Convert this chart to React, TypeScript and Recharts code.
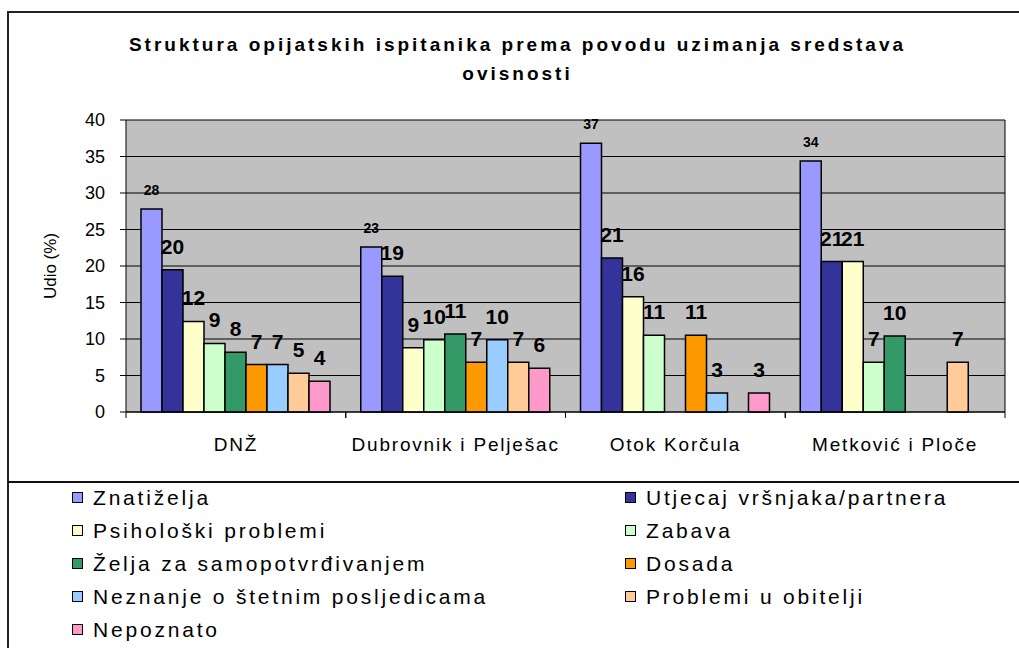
import React from 'react';
import { BarChart, Bar, XAxis, YAxis, CartesianGrid, Legend, LabelList } from 'recharts';

// regije (kategorije na x-osi)
const regions = ['DNŽ', 'Dubrovnik i Pelješac', 'Otok Korčula', 'Metković i Ploče'];

// povodi - nazivi serija i boje
const seriesNames = [
  'Znatiželja',
  'Utjecaj vršnjaka/partnera',
  'Psihološki problemi',
  'Zabava',
  'Želja za samopotvrđivanjem',
  'Dosada',
  'Neznanje o štetnim posljedicama',
  'Problemi u obitelji',
  'Nepoznato',
];
const seriesColors = ['#9999FF', '#333399', '#FFFFCC', '#CCFFCC', '#339966', '#FF9900', '#99CCFF', '#FFCC99', '#FF99CC'];

// udio (%) po regijama, null = nema podatka
const znatizelja = [27.8, 22.6, 36.8, 34.4];
const utjecaj = [19.5, 18.6, 21.1, 20.6];
const psiholoski = [12.4, 8.8, 15.8, 20.6];
const zabava = [9.4, 9.9, 10.5, 6.8];
const zelja = [8.2, 10.7, null, 10.4];
const dosada = [6.5, 6.8, 10.5, null];
const neznanje = [6.5, 9.9, 2.6, null];
const problemi = [5.3, 6.8, null, 6.8];
const nepoznato = [4.2, 6.0, 2.6, null];

const yTicks = [0, 5, 10, 15, 20, 25, 30, 35, 40];

const seriesValues = [znatizelja, utjecaj, psiholoski, zabava, zelja, dosada, neznanje, problemi, nepoznato];

const data = regions.map((region, i) => {
  const row: Record<string, any> = { region };
  seriesValues.forEach((vals, s) => {
    row['s' + s] = vals[i];
  });
  return row;
});

const FONT = '"Liberation Sans", Arial, sans-serif';

const RegionTick = (props: any) => {
  const { x, y, payload } = props;
  const half = payload && payload.offset ? payload.offset : 110;
  const axisY = y - 24;
  return (
    <g>
      <line x1={x - half} x2={x - half} y1={axisY} y2={axisY + 6} stroke="#000" />
      <line x1={x + half} x2={x + half} y1={axisY} y2={axisY + 6} stroke="#000" />
      <text x={x} y={y + 15} textAnchor="middle" fontSize={19} letterSpacing={1.8} fill="#000">
        {payload.value}
      </text>
    </g>
  );
};

const makeLabel = (small: boolean) => (p: any) => {
  const { x, y, width, value } = p;
  if (value == null) return null;
  return (
    <text
      x={x + width / 2}
      y={y - (small ? 14 : 16)}
      textAnchor="middle"
      fontSize={small ? 14 : 21}
      fontWeight="bold"
      fill="#000"
    >
      {Math.round(value)}
    </text>
  );
};

// legenda u dva stupca, redoslijed kao u seriji
const renderLegend = () => (
  <div
    style={{
      display: 'grid',
      gridTemplateColumns: '553px 1fr',
      gridAutoRows: '33px',
      paddingLeft: 72,
      fontFamily: FONT,
    }}
  >
    {seriesNames.map((name, i) => (
      <div key={name} style={{ display: 'flex', alignItems: 'center' }}>
        <span
          style={{
            display: 'inline-block',
            width: 11,
            height: 11,
            background: seriesColors[i],
            border: '1px solid #000',
            boxSizing: 'border-box',
            marginRight: 10,
          }}
        />
        <span style={{ fontSize: 21, letterSpacing: 2.8, color: '#000', whiteSpace: 'nowrap' }}>{name}</span>
      </div>
    ))}
  </div>
);

export default function App() {
  return (
    <div
      style={{
        position: 'absolute',
        left: 0,
        top: 0,
        width: 1019,
        height: 648,
        overflow: 'hidden',
        background: '#fff',
        fontFamily: FONT,
      }}
    >
      {/* okvir grafikona */}
      <div
        style={{
          position: 'absolute',
          left: 7,
          top: 11,
          width: 1040,
          height: 700,
          border: '2px solid #222',
        }}
      />
      <div style={{ position: 'absolute', left: 8, top: 481, width: 1011, height: 2, background: '#111' }} />

      <div
        style={{
          position: 'absolute',
          left: 16,
          top: 30,
          width: 1003,
          textAlign: 'center',
          fontSize: 19,
          fontWeight: 'bold',
          lineHeight: '29px',
          letterSpacing: 3,
          color: '#000',
        }}
      >
        <div>Struktura opijatskih ispitanika prema povodu uzimanja sredstava</div>
        <div>ovisnosti</div>
      </div>

      <div style={{ position: 'absolute', left: 0, top: 0 }}>
        <BarChart
          width={1019}
          height={648}
          data={data}
          margin={{ top: 120, right: 14, left: 36, bottom: 166 }}
          barCategoryGap={15}
          barGap={0}
        >
          <CartesianGrid
            stroke="#000"
            fill="#C0C0C0"
            fillOpacity={1}
            verticalCoordinatesGenerator={({ offset }: any) => [offset.left + offset.width]}
          />
          <XAxis
            dataKey="region"
            height={70}
            interval={0}
            tickLine={false}
            tickSize={6}
            tickMargin={18}
            axisLine={{ stroke: '#000' }}
            tick={<RegionTick />}
          />
          <YAxis
            width={90}
            domain={[0, 40]}
            ticks={yTicks}
            interval={0}
            tickSize={6}
            tickMargin={15}
            axisLine={{ stroke: '#000' }}
            tickLine={{ stroke: '#000' }}
            tick={{ fontSize: 18, fill: '#000' }}
            label={{
              content: ({ viewBox }: any) => {
                const cx = viewBox.x + 14;
                const cy = viewBox.y + viewBox.height / 2;
                return (
                  <text
                    x={cx}
                    y={cy}
                    transform={`rotate(-90, ${cx}, ${cy})`}
                    textAnchor="middle"
                    dominantBaseline="central"
                    fontSize={17}
                    fill="#000"
                  >
                    Udio (%)
                  </text>
                );
              },
            }}
          />
          <Legend
            layout="vertical"
            align="center"
            verticalAlign="middle"
            wrapperStyle={{ top: 481, left: 0, width: 1019 }}
            content={renderLegend}
          />
          {seriesNames.map((name, s) => (
            <Bar
              key={name}
              dataKey={'s' + s}
              name={name}
              fill={seriesColors[s]}
              stroke="#000"
              strokeWidth={1.5}
              isAnimationActive={false}
            >
              <LabelList dataKey={'s' + s} content={makeLabel(s === 0)} />
            </Bar>
          ))}
        </BarChart>
      </div>
    </div>
  );
}
